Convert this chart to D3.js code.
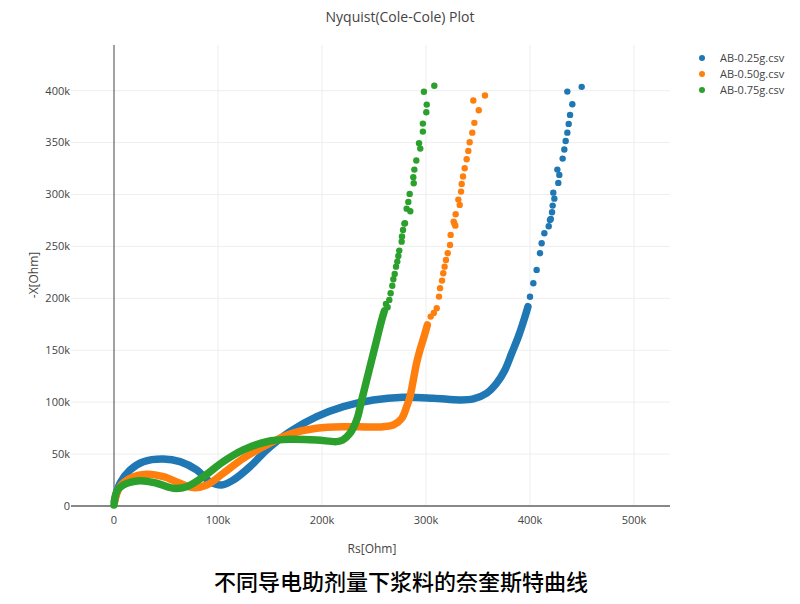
<!DOCTYPE html>
<html>
<head>
<meta charset="utf-8">
<script src="https://cdn.jsdelivr.net/npm/d3@7"></script>
<style>
body { margin: 0; background: #fff; }
svg text { font-family: "Open Sans", "Noto Sans", sans-serif; fill: #444; }
</style>
</head>
<body>
<svg width="800" height="604"></svg>
<script>
// series names + colours
var seriesNames = ["AB-0.25g.csv", "AB-0.50g.csv", "AB-0.75g.csv"];
var seriesColors = ["#1f77b4", "#ff7f0e", "#2ca02c"];

// dense part of each curve (k Ohm)
var blueCurveRs = [0.5, 5.8, 15.4, 28.2, 47.4, 63.5, 79.5, 92.3, 103.5, 114.7, 130.8, 146.8, 169.2, 194.9, 220.5, 249.4, 278.2, 307, 332.7, 345.5, 358.3, 367.9, 375.9, 382.4, 388.8, 395.2, 398];
var blueCurveX = [5, 21.9, 34.7, 42.7, 45.3, 42.7, 34.7, 23.4, 20.2, 25, 37.9, 54, 71.6, 86, 95.7, 102.1, 104.7, 103.8, 102.1, 103.1, 108.6, 118.2, 131, 147.1, 163.1, 182.4, 192];
var orangeCurveRs = [0.5, 5.8, 15.4, 31.4, 47.4, 63.5, 76.3, 89.1, 105.1, 124.3, 146.8, 169.2, 194.9, 220.5, 245, 258.7, 268.6, 276.6, 281.4, 284.6, 287.8, 290.9, 294.2, 298.1, 301.3];
var orangeCurveX = [4, 18.6, 26.6, 30.5, 28.2, 21.9, 17.7, 20.2, 31.5, 45.9, 58.8, 69.4, 74.9, 76.4, 76.1, 76.4, 78, 84.3, 95.7, 105.3, 121.4, 137.5, 150.3, 163.1, 174.4];
var greenCurveRs = [0, 2.6, 8.9, 25, 41, 57, 69.9, 85.9, 105.1, 124.3, 146.8, 169.2, 194.9, 214.1, 220, 226.9, 233.4, 238.2, 243, 247.8, 252.6, 257.4, 260];
var greenCurveX = [1, 13.8, 20.2, 24.4, 21.9, 17.1, 18.6, 28.2, 42.7, 54, 61.9, 64.2, 63.6, 62, 63.5, 70, 82.9, 102.1, 121.4, 140.7, 160, 179.2, 188];

// sparse markers at the top of each curve (k Ohm)
var blueDotRs = [400, 403.2, 406.4, 409.6, 411.2, 413.8, 418, 419.2, 420, 421.2, 421.8, 423.4, 422.4, 427.2, 428.2, 426.3, 431.4, 433, 434.3, 435.9, 437.2, 438.5, 440.7, 435.9, 449.7];
var blueDotX = [201.6, 214.5, 227.4, 243.4, 253, 262.7, 269.5, 275.5, 276.5, 282.9, 289.3, 296, 301.8, 311.2, 318.9, 324, 334.6, 343.3, 351.6, 359.6, 368, 376.7, 387, 399.1, 403.7];
var orangeDotRs = [304.5, 307.5, 310.3, 312.5, 313.5, 315.4, 316.6, 317.9, 319.2, 320.9, 323.1, 323.7, 327.2, 326.6, 328.2, 328.5, 332.4, 331.1, 333.7, 334.3, 335.6, 337.2, 339.1, 340.7, 342, 344.5, 346.5, 350.7, 345.5, 356.7];
var orangeDotX = [182.4, 186, 190.5, 201.7, 209.8, 217.1, 224.2, 230.5, 237, 243.4, 251.4, 261.1, 272.3, 273.9, 270, 281, 290, 295.1, 302.8, 310.2, 317.3, 325.3, 334, 342, 350.4, 359.6, 369, 381.2, 390.5, 395.3];
var greenDotRs = [261.5, 263.1, 264.7, 266, 267.6, 268.6, 269.9, 271.2, 272.4, 273.4, 274.3, 276.6, 276.9, 277.9, 279.2, 279.8, 284.9, 281.4, 283, 284.3, 288.2, 287.8, 288.8, 290.7, 294.5, 293.3, 297, 297, 300.3, 300.7, 298, 308];
var greenDotX = [194.5, 191.4, 198.5, 204.9, 212.2, 218.4, 223.5, 230.5, 235.4, 240.8, 246, 254.6, 259.5, 265.9, 272, 272.3, 283.9, 286.4, 292.9, 300.6, 310.9, 316.7, 324, 332.7, 344.2, 349.4, 360.6, 368.3, 379.3, 386.6, 399, 404.7];

var xTicks = [0, 100, 200, 300, 400, 500];
var yTicks = [0, 50, 100, 150, 200, 250, 300, 350, 400];

var curves = [
	{ rs: blueCurveRs, x: blueCurveX, dotRs: blueDotRs, dotX: blueDotX },
	{ rs: orangeCurveRs, x: orangeCurveX, dotRs: orangeDotRs, dotX: orangeDotX },
	{ rs: greenCurveRs, x: greenCurveX, dotRs: greenDotRs, dotX: greenDotX }
];

var plotLeft = 71, plotRight = 670, plotTop = 45, plotBottom = 506;

var svg = d3.select("svg");
var xScale = d3.scaleLinear().domain([0, 100]).range([114, 218]);
var yScale = d3.scaleLinear().domain([0, 444]).range([plotBottom, plotTop]);

// grid
svg.append("g").selectAll("line").data(xTicks.filter(function(d) { return d != 0; }))
	.enter().append("line")
	.attr("x1", function(d) { return xScale(d); }).attr("x2", function(d) { return xScale(d); })
	.attr("y1", plotTop).attr("y2", plotBottom)
	.attr("stroke", "#eee");
svg.append("g").selectAll("line").data(yTicks.filter(function(d) { return d != 0; }))
	.enter().append("line")
	.attr("y1", function(d) { return yScale(d); }).attr("y2", function(d) { return yScale(d); })
	.attr("x1", plotLeft).attr("x2", plotRight)
	.attr("stroke", "#eee");

// zero lines
svg.append("line")
	.attr("x1", xScale(0)).attr("x2", xScale(0)).attr("y1", plotTop).attr("y2", plotBottom)
	.attr("stroke", "#444").attr("stroke-width", 1);
svg.append("line")
	.attr("x1", plotLeft).attr("x2", plotRight).attr("y1", yScale(0)).attr("y2", yScale(0))
	.attr("stroke", "#888").attr("stroke-width", 2);

var fmt = function(d) { return d == 0 ? "0" : d + "k"; };

// tick labels
svg.append("g").selectAll("text").data(xTicks).enter().append("text")
	.attr("x", function(d) { return xScale(d); })
	.attr("y", plotBottom + 18)
	.attr("text-anchor", "middle")
	.style("font-size", "11px")
	.text(fmt);
svg.append("g").selectAll("text").data(yTicks).enter().append("text")
	.attr("x", plotLeft - 1)
	.attr("y", function(d) { return yScale(d); })
	.attr("dy", ".35em")
	.attr("text-anchor", "end")
	.style("font-size", "11px")
	.text(fmt);

// curves
var line = d3.line()
	.x(function(d) { return xScale(d[0]); })
	.y(function(d) { return yScale(d[1]); })
	.curve(d3.curveMonotoneX);

var lineSmooth = d3.line()
	.x(function(d) { return xScale(d[0]); })
	.y(function(d) { return yScale(d[1]); })
	.curve(d3.curveCatmullRom.alpha(0.5));

curves.forEach(function(c, i) {
	var g = svg.append("g");
	var pts = c.rs.map(function(r, j) { return [r, c.x[j]]; });
	g.append("path")
		.attr("d", lineSmooth(pts))
		.attr("fill", "none")
		.attr("stroke", seriesColors[i])
		.attr("stroke-width", 7.5)
		.attr("stroke-linecap", "round")
		.attr("stroke-linejoin", "round");
	var dots = c.dotRs.map(function(r, j) { return [r, c.dotX[j]]; });
	g.selectAll("circle").data(dots).enter().append("circle")
		.attr("cx", function(d) { return xScale(d[0]); })
		.attr("cy", function(d) { return yScale(d[1]); })
		.attr("r", 3.2)
		.attr("fill", seriesColors[i]);
});

// legend
svg.append("clipPath").attr("id", "legclip")
	.append("rect").attr("x", 690).attr("y", 40).attr("width", 100).attr("height", 70);
var leg = svg.append("g").attr("clip-path", "url(#legclip)");
var legItems = leg.selectAll("g").data(seriesNames).enter().append("g")
	.attr("transform", function(d, i) { return "translate(702," + (58 + i * 16) + ")"; });
legItems.append("circle").attr("r", 3).attr("fill", function(d, i) { return seriesColors[i]; });
legItems.append("text").attr("x", 18).attr("dy", ".35em")
	.style("font-size", "11px").text(function(d) { return d; });

// titles
svg.append("text").attr("x", 400).attr("y", 22).attr("text-anchor", "middle")
	.style("font-size", "14px").text("Nyquist(Cole-Cole) Plot");
svg.append("text").attr("x", 372).attr("y", 553).attr("text-anchor", "middle")
	.style("font-size", "12px").text("Rs[Ohm]");
svg.append("text").attr("transform", "translate(38,275) rotate(-90)").attr("text-anchor", "middle")
	.style("font-size", "12px").text("-X[Ohm]");
svg.append("text").attr("x", 401).attr("y", 590).attr("text-anchor", "middle")
	.style("font-family", "'Noto Sans CJK SC', sans-serif").style("font-size", "22px")
	.style("font-weight", "500").style("fill", "#000")
	.text("不同导电助剂量下浆料的奈奎斯特曲线");
</script>
</body>
</html>
